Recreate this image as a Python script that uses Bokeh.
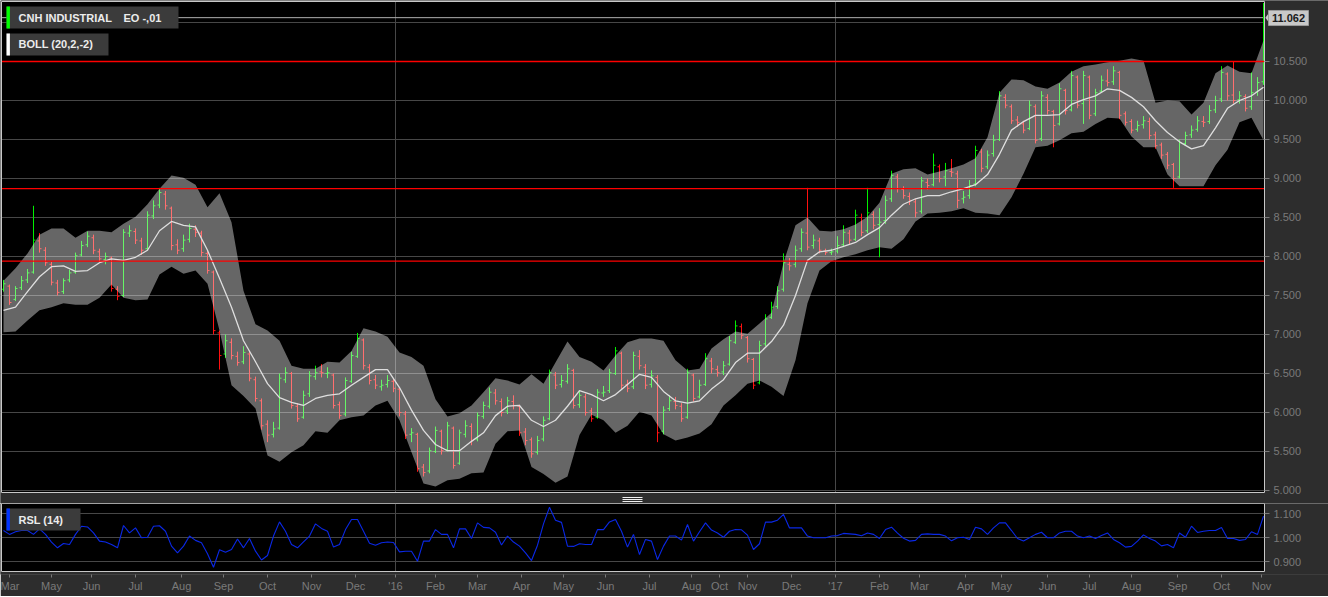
from bokeh.plotting import figure
from bokeh.models import Range1d, FixedTicker, PrintfTickFormatter, Span, ColumnDataSource
from bokeh.layouts import column
from bokeh.embed import file_html
from bokeh.resources import INLINE
from bokeh.core.properties import value

# ---------------- data ----------------
OPEN = [7.58, 7.62, 7.45, 7.60, 7.70, 7.80, 8.20, 8.08, 7.90, 7.66, 7.55, 7.70, 7.80, 8.02, 8.15, 8.24, 8.06, 7.96, 7.98, 7.58,
        7.50, 8.30, 8.32, 8.20, 8.10, 8.52, 8.66, 8.80, 8.62, 8.15, 8.10, 8.22, 8.35, 8.30, 8.04, 7.80, 7.02, 6.75, 6.90, 6.72,
        6.65, 6.75, 6.42, 6.15, 5.85, 5.72, 5.80, 6.42, 6.50, 6.08, 5.94, 6.24, 6.46, 6.52,
        6.50, 6.48, 6.10, 5.98, 6.40, 6.72, 6.93, 6.58, 6.42, 6.33, 6.36, 6.40, 6.30, 5.98, 5.72, 5.72, 5.30, 5.25, 5.50, 5.76,
        5.52, 5.80, 5.35, 5.72, 5.82, 5.66, 5.95, 6.08, 6.25, 6.14, 6.02, 6.14, 6.08, 5.75, 5.65, 5.49, 5.66, 5.92, 6.48, 6.36,
        6.40, 6.54, 6.10, 6.20, 6.02, 5.94, 6.25, 6.28, 6.50, 6.76, 6.36, 6.33,
        6.72, 6.58, 6.36, 6.45, 5.76, 6.05, 6.14, 6.08, 5.94, 6.48, 6.20, 6.36, 6.66, 6.55, 6.52, 6.62, 6.90, 7.10, 6.96, 6.68,
        6.38, 6.88, 7.22, 7.36, 7.58, 7.90, 7.90, 8.10, 8.30, 8.14, 8.20, 8.07, 8.05, 8.07, 8.15, 8.30, 8.22, 8.50, 8.33, 8.54,
        8.41, 8.46, 8.74, 9.02, 8.86, 8.77, 8.70, 8.58, 8.95, 8.92, 9.15, 9.02, 9.09,
        9.06, 8.74, 8.78, 8.93, 9.34, 9.15, 9.32, 9.50, 10.04, 9.92, 9.75, 9.70, 9.64, 9.92, 9.51, 10.04, 9.86, 9.70, 10.13, 9.88,
        10.30, 9.96, 10.30, 9.83, 10.12, 10.25, 10.24, 10.36, 9.83, 9.73, 9.63, 9.69, 9.73, 9.56, 9.43, 9.31, 9.18, 9.02, 9.45, 9.56,
        9.63, 9.73, 9.73, 9.88, 10.02, 10.34, 10.07, 10.01, 10.05, 9.92, 10.11, 10.24]
HIGH = [7.70, 7.64, 7.62, 7.75, 7.84, 8.65, 8.30, 8.12, 7.93, 7.70, 7.72, 7.83, 8.05, 8.20, 8.32, 8.28, 8.10, 8.05, 8.00, 7.62,
        8.35, 8.40, 8.36, 8.24, 8.58, 8.72, 8.88, 8.84, 8.64, 8.22, 8.28, 8.42, 8.40, 8.33, 8.08, 7.82, 7.05, 7.00, 6.95, 6.78,
        6.85, 6.78, 6.46, 6.18, 5.90, 5.88, 6.50, 6.58, 6.52, 6.12, 6.28, 6.53, 6.60, 6.62,
        6.58, 6.50, 6.14, 6.45, 6.78, 7.02, 6.95, 6.62, 6.48, 6.42, 6.48, 6.44, 6.32, 6.02, 5.80, 5.74, 5.34, 5.55, 5.82, 5.78,
        5.88, 5.82, 5.78, 5.90, 5.86, 6.00, 6.14, 6.32, 6.30, 6.18, 6.20, 6.22, 6.10, 5.80, 5.68, 5.70, 5.95, 6.55, 6.52, 6.48,
        6.62, 6.56, 6.28, 6.24, 6.06, 6.30, 6.34, 6.56, 6.84, 6.78, 6.42, 6.78,
        6.80, 6.62, 6.54, 6.48, 6.08, 6.22, 6.20, 6.12, 6.56, 6.50, 6.42, 6.76, 6.70, 6.60, 6.66, 6.98, 7.18, 7.14, 6.98, 6.70,
        6.92, 7.26, 7.42, 7.62, 8.04, 7.98, 8.14, 8.36, 8.88, 8.28, 8.24, 8.10, 8.10, 8.26, 8.40, 8.34, 8.60, 8.55, 8.88, 8.58,
        8.62, 8.78, 9.10, 9.06, 8.90, 8.82, 8.74, 9.02, 9.00, 9.32, 9.18, 9.20, 9.25,
        9.10, 8.84, 8.98, 9.42, 9.38, 9.36, 9.56, 10.12, 10.08, 9.95, 9.80, 9.74, 10.00, 9.95, 10.12, 10.08, 9.88, 10.22, 10.15, 10.38,
        10.32, 10.38, 10.32, 10.15, 10.32, 10.40, 10.44, 10.38, 9.86, 9.76, 9.74, 9.80, 9.78, 9.60, 9.46, 9.34, 9.20, 9.50, 9.60, 9.68,
        9.80, 9.80, 9.94, 10.06, 10.44, 10.36, 10.50, 10.12, 10.08, 10.36, 10.30, 11.25]
LOW = [7.55, 7.38, 7.43, 7.57, 7.66, 7.78, 8.05, 7.88, 7.63, 7.50, 7.52, 7.67, 7.78, 8.00, 8.12, 8.03, 7.93, 7.90, 7.55, 7.44,
       7.48, 8.25, 8.16, 8.02, 8.08, 8.48, 8.62, 8.60, 8.08, 8.03, 8.06, 8.18, 8.25, 8.00, 7.78, 7.00, 6.55, 6.70, 6.68, 6.60,
       6.62, 6.40, 6.14, 5.78, 5.62, 5.68, 5.78, 6.38, 6.05, 5.88, 5.92, 6.20, 6.42, 6.45,
       6.44, 6.05, 5.92, 5.95, 6.38, 6.70, 6.55, 6.36, 6.30, 6.28, 6.32, 6.26, 5.95, 5.66, 5.62, 5.24, 5.18, 5.22, 5.48, 5.46,
       5.50, 5.28, 5.33, 5.68, 5.58, 5.63, 5.92, 6.05, 6.10, 5.95, 5.98, 6.04, 5.70, 5.58, 5.42, 5.46, 5.63, 5.90, 6.30, 6.32,
       6.37, 6.05, 6.06, 5.96, 5.88, 5.92, 6.20, 6.25, 6.48, 6.30, 6.26, 6.30,
       6.55, 6.30, 6.32, 5.62, 5.72, 6.02, 6.04, 5.88, 5.92, 6.14, 6.18, 6.34, 6.50, 6.46, 6.48, 6.60, 6.88, 6.94, 6.64, 6.30,
       6.36, 6.85, 7.20, 7.33, 7.55, 7.82, 7.86, 8.06, 8.08, 8.10, 8.04, 8.02, 8.02, 8.04, 8.12, 8.16, 8.20, 8.26, 8.30, 8.35,
       7.99, 8.42, 8.70, 8.82, 8.74, 8.66, 8.50, 8.55, 8.86, 8.90, 8.95, 8.90, 9.02,
       8.62, 8.68, 8.74, 8.90, 9.08, 9.12, 9.28, 9.48, 9.90, 9.70, 9.66, 9.58, 9.62, 9.45, 9.48, 9.82, 9.40, 9.68, 9.82, 9.86,
       9.90, 9.70, 9.76, 9.80, 10.10, 10.18, 10.20, 9.76, 9.68, 9.58, 9.60, 9.64, 9.50, 9.38, 9.25, 9.12, 8.88, 9.00, 9.42, 9.52,
       9.60, 9.66, 9.70, 9.84, 9.98, 10.00, 9.96, 9.96, 9.86, 9.88, 10.06, 10.20]
CLOSE = [7.65, 7.41, 7.59, 7.69, 7.79, 8.21, 8.10, 7.92, 7.67, 7.54, 7.69, 7.79, 8.01, 8.14, 8.26, 8.08, 7.97, 8.00, 7.59, 7.49,
         8.31, 8.33, 8.21, 8.08, 8.53, 8.65, 8.82, 8.65, 8.14, 8.08, 8.21, 8.36, 8.31, 8.05, 7.82, 7.05, 6.73, 6.92, 6.73, 6.64,
         6.77, 6.44, 6.18, 5.83, 5.71, 5.79, 6.44, 6.51, 6.09, 5.92, 6.22, 6.47, 6.51, 6.51,
         6.51, 6.09, 5.96, 6.41, 6.73, 6.95, 6.60, 6.41, 6.35, 6.35, 6.41, 6.31, 6.00, 5.71, 5.74, 5.28, 5.23, 5.51, 5.77, 5.51,
         5.83, 5.32, 5.74, 5.83, 5.64, 5.96, 6.09, 6.26, 6.15, 6.00, 6.15, 6.09, 5.74, 5.64, 5.47, 5.64, 5.90, 6.51, 6.35, 6.41,
         6.56, 6.09, 6.22, 6.00, 5.92, 6.26, 6.26, 6.51, 6.79, 6.35, 6.31, 6.73,
         6.60, 6.35, 6.47, 5.74, 6.03, 6.15, 6.09, 5.92, 6.51, 6.18, 6.35, 6.69, 6.56, 6.51, 6.60, 6.92, 7.11, 6.99, 6.69, 6.35,
         6.86, 7.20, 7.35, 7.56, 7.92, 7.88, 8.08, 8.31, 8.12, 8.21, 8.08, 8.05, 8.06, 8.14, 8.31, 8.21, 8.53, 8.31, 8.56, 8.40,
         8.44, 8.72, 9.04, 8.87, 8.78, 8.72, 8.56, 8.97, 8.91, 9.17, 9.00, 9.10, 9.08,
         8.72, 8.76, 8.91, 9.36, 9.13, 9.30, 9.49, 10.06, 9.94, 9.74, 9.72, 9.62, 9.94, 9.49, 10.06, 9.87, 9.68, 10.15, 9.87, 10.32,
         9.94, 10.32, 9.81, 10.10, 10.26, 10.23, 10.38, 9.81, 9.72, 9.62, 9.68, 9.74, 9.55, 9.42, 9.30, 9.17, 9.00, 9.46, 9.55, 9.62,
         9.74, 9.72, 9.87, 10.00, 10.36, 10.06, 10.00, 10.06, 9.90, 10.10, 10.23, 11.06]

BAND_UPPER = [7.69, 7.85, 8.04, 8.28, 8.36, 8.36, 8.24, 8.33, 8.33, 8.31,
              8.42, 8.51, 8.67, 8.87, 9.04, 9.01, 8.92, 8.63, 8.81, 8.44,
              7.56, 7.13, 7.05, 6.92, 6.60, 6.56, 6.56, 6.65, 6.64, 6.79,
              7.08, 7.04, 6.97, 6.77, 6.71, 6.60, 6.17, 5.95, 5.99, 6.09,
              6.26, 6.44, 6.41, 6.36, 6.49, 6.37, 6.64, 6.91, 6.71, 6.65,
              6.54, 6.73, 6.90, 6.95, 6.95, 6.92, 6.67, 6.54, 6.56, 6.82,
              6.94, 7.04, 7.01, 7.14, 7.28, 7.92, 8.40, 8.50, 8.33, 8.32,
              8.35, 8.41, 8.51, 8.69, 9.06, 9.12, 9.13, 9.05, 9.09, 9.13,
              9.18, 9.26, 9.53, 10.10, 10.27, 10.26, 10.18, 10.15, 10.23, 10.37,
              10.44, 10.46, 10.49, 10.51, 10.54, 10.51, 9.97, 10.00, 9.99, 9.82,
              9.97, 10.35, 10.45, 10.37, 10.35, 10.77]
BAND_MID = [7.31, 7.35, 7.55, 7.74, 7.87, 7.88, 7.81, 7.82, 7.92, 7.97,
            7.95, 7.99, 8.08, 8.33, 8.45, 8.40, 8.38, 8.08, 7.72, 7.35,
            6.92, 6.65, 6.37, 6.19, 6.13, 6.09, 6.18, 6.22, 6.24, 6.35,
            6.45, 6.55, 6.55, 6.32, 6.03, 5.77, 5.59, 5.51, 5.51, 5.63,
            5.74, 5.96, 6.08, 6.09, 5.90, 5.82, 5.90, 6.08, 6.28, 6.23,
            6.15, 6.23, 6.36, 6.49, 6.45, 6.27, 6.15, 6.12, 6.15, 6.30,
            6.42, 6.64, 6.76, 6.76, 6.91, 7.12, 7.50, 7.95, 8.06, 8.08,
            8.13, 8.18, 8.28, 8.37, 8.53, 8.67, 8.74, 8.78, 8.78, 8.83,
            8.87, 8.92, 9.05, 9.31, 9.62, 9.73, 9.81, 9.81, 9.82, 9.95,
            10.01, 10.06, 10.15, 10.13, 10.04, 9.92, 9.74, 9.59, 9.47, 9.38,
            9.42, 9.65, 9.90, 10.00, 10.06, 10.17]
BAND_LOWER = [7.03, 7.04, 7.18, 7.31, 7.35, 7.40, 7.38, 7.38, 7.47, 7.64,
              7.47, 7.44, 7.45, 7.77, 7.87, 7.78, 7.82, 7.65, 7.05, 6.35,
              6.21, 6.05, 5.45, 5.37, 5.49, 5.58, 5.76, 5.74, 5.90, 5.94,
              5.96, 6.09, 6.15, 5.90, 5.49, 5.09, 5.05, 5.13, 5.15, 5.22,
              5.23, 5.60, 5.76, 5.77, 5.30, 5.21, 5.10, 5.18, 5.71, 5.97,
              5.90, 5.74, 5.83, 6.01, 5.96, 5.72, 5.64, 5.68, 5.73, 5.85,
              6.09, 6.22, 6.37, 6.41, 6.33, 6.21, 6.67, 7.40, 7.82, 7.94,
              7.99, 8.03, 8.08, 8.12, 8.10, 8.22, 8.45, 8.55, 8.56, 8.58,
              8.62, 8.56, 8.55, 8.53, 8.76, 9.06, 9.40, 9.42, 9.49, 9.58,
              9.60, 9.70, 9.78, 9.77, 9.54, 9.40, 9.40, 9.05, 8.90, 8.90,
              8.90, 9.17, 9.37, 9.72, 9.78, 9.49]

RSL = [1.029, 1.013, 1.024, 1.029, 1.029, 1.013, 1.036, 1.013, 0.981, 0.957, 0.975, 0.971, 1.013, 1.047, 1.044, 1.019, 0.985, 0.981, 0.971, 0.957,
       1.050, 1.019, 1.040, 0.999, 1.001, 1.047, 1.049, 1.026, 0.964, 0.936, 0.964, 1.006, 0.988, 0.978, 0.932, 0.876, 0.949, 0.939, 0.950, 0.994,
       0.957, 0.996, 0.943, 0.906, 0.925, 1.006, 1.065, 1.026, 0.971, 0.957, 0.982, 1.006, 1.057, 1.038, 1.026, 0.960, 0.971, 1.033, 1.075, 1.075,
       1.026, 0.976, 0.968, 0.978, 0.981, 0.979,
       0.940, 0.943, 0.943, 0.901, 0.985, 0.985, 1.033, 1.013, 1.013, 0.957, 1.036, 1.036, 0.996, 1.061, 1.042, 1.040, 1.022, 0.969, 1.006, 0.981,
       0.964, 0.936, 0.904, 0.968, 1.057, 1.126, 1.072, 1.063, 0.964, 0.963, 0.974, 0.971, 0.971, 1.033, 1.033, 1.065, 1.075, 1.026, 0.960, 1.013,
       0.929, 0.992, 0.985, 0.908, 0.964, 1.006, 1.006, 0.989, 1.054, 0.985, 1.024, 1.061, 1.031, 1.019, 1.001, 1.026, 1.033, 1.032, 1.010, 0.950,
       0.974, 1.064, 1.064, 1.072, 1.096, 1.040, 1.040, 1.040, 1.006, 0.999, 0.999, 0.999, 1.006, 1.008, 1.017, 1.015, 1.013, 1.007, 1.019, 1.013,
       0.996,
       1.033, 1.043, 1.018, 0.997, 0.985, 0.988, 1.013, 1.015, 1.013, 1.013, 1.006, 0.986, 0.999, 1.001, 0.992, 1.043, 1.036, 1.013, 1.040, 1.061,
       1.061, 1.029, 0.996, 0.985, 0.999, 1.013, 1.022, 0.999, 0.999, 1.019, 1.026, 1.026, 1.006, 0.999, 1.006, 0.996, 1.008, 1.019, 0.992, 0.978,
       0.960, 0.963, 0.985, 1.011, 0.996, 0.985, 0.965, 0.971, 0.957, 1.019, 1.001, 1.047, 1.021, 1.026, 1.029, 1.029, 1.042, 0.996, 0.996, 0.988,
       0.992, 1.024, 1.013, 1.089]

TICK_DAYS = [4, 25, 45, 67, 90, 111, 133, 155, 177, 197, 217, 238, 260, 281, 302, 324, 345, 359, 373, 395,
             417, 439, 459, 482, 500, 523, 544, 565, 588, 610, 630]
TICK_LABELS = ["Mar", "May", "Jun", "Jul", "Aug", "Sep", "Oct", "Nov", "Dec", "'16", "Feb", "Mar", "Apr", "May",
               "Jun", "Jul", "Aug", "Oct", "Nov", "Dec", "'17", "Feb", "Mar", "Apr", "May", "Jun", "Jul", "Aug",
               "Sep", "Oct", "Nov"]
YEAR_DAYS = [197, 417]
PRICE_TICKS = [5.0, 5.5, 6.0, 6.5, 7.0, 7.5, 8.0, 8.5, 9.0, 9.5, 10.0, 10.5]
PRICE_GRID = PRICE_TICKS + [11.0]
RSL_TICKS = [0.9, 1.0, 1.1]
LEVELS = [10.5, 8.87, 7.94]
LAST_PRICE = 11.062

BAR_STEP = 3    # trading days per bar
BAND_STEP = 6   # trading days per band sample

# ---------------- layout constants ----------------
BG = "#2d2d2d"
GRID = "#474747"
AXIS_TXT = "#7a7a7a"
FRAME = "#c8c8c8"
FONT = "Liberation Sans"
UP = "#00f000"
DOWN = "#ff1010"

X_START = -0.5          # 2 px per trading day
X_END = 631.5           # right edge of the chart boxes (trading days)
X_MAX = 663.5           # right edge of the page column holding the value labels
PX_P = 78.0             # pixels per price unit
P_TOP = 11.282
P_BOT = P_TOP - 503 / PX_P
BOX_TOP = P_TOP - 1 / PX_P
BOX_BOT = P_TOP - 492 / PX_P
SEP_TOP = P_TOP - 492.5 / PX_P
PX_R = 240.0            # pixels per RSL unit
R_TOP = 1.14167
R_BOT = R_TOP - 71 / PX_R
RBOX_TOP = R_TOP
RBOX_BOT = R_TOP - 68 / PX_R
RSTRIP_TOP = R_TOP - 68.5 / PX_R

bar_day = [1 + BAR_STEP * i for i in range(len(CLOSE))]
band_day = [1 + BAND_STEP * i for i in range(len(BAND_MID))]

src = ColumnDataSource(dict(
    x=bar_day,
    xl=[d - 1 for d in bar_day],
    xr=[d + 1 for d in bar_day],
    o=OPEN, h=HIGH, l=LOW, c=CLOSE,
    col=[UP if c >= o else DOWN for o, c in zip(OPEN, CLOSE)],
))

xr = Range1d(X_START, X_MAX)


def style_value_axis(ax, ticks):
    ax.ticker = FixedTicker(ticks=ticks)
    ax.formatter = PrintfTickFormatter(format="%.3f")
    ax.fixed_location = X_END
    ax.axis_line_color = None
    ax.major_tick_line_color = AXIS_TXT
    ax.major_tick_out = 5
    ax.major_tick_in = 0
    ax.minor_tick_line_color = None
    ax.major_label_text_color = AXIS_TXT
    ax.major_label_text_font = FONT
    ax.major_label_text_font_size = "11px"
    ax.major_label_standoff = 4


# ---------------- price panel ----------------
p1 = figure(width=1328, height=503, x_range=xr, y_range=Range1d(P_BOT, P_TOP),
            output_backend="svg", toolbar_location=None,
            x_axis_location=None, y_axis_location="right",
            min_border_left=0, min_border_right=0, min_border_top=0, min_border_bottom=0,
            background_fill_color="black", border_fill_color=BG, outline_line_color=None)
p1.xgrid.visible = False
p1.ygrid.ticker = FixedTicker(ticks=PRICE_GRID)
p1.ygrid.grid_line_color = GRID
style_value_axis(p1.yaxis[0], PRICE_TICKS)

for d in YEAR_DAYS:
    p1.add_layout(Span(location=d, dimension="height", line_color=GRID, line_width=1, level="underlay"))

# last price line
p1.segment(x0=[0], y0=[LAST_PRICE], x1=[X_END], y1=[LAST_PRICE], line_color="#b0b0b0", line_width=1)

# OHLC bars
p1.segment(x0="x", y0="l", x1="x", y1="h", line_color="col", line_width=1, source=src)
p1.segment(x0="xl", y0="o", x1="x", y1="o", line_color="col", line_width=1, source=src)
p1.segment(x0="x", y0="c", x1="xr", y1="c", line_color="col", line_width=1, source=src)

# Bollinger band (translucent over the bars) and middle line
p1.varea(x=band_day, y1=BAND_LOWER, y2=BAND_UPPER, fill_color="white", fill_alpha=0.4)
p1.line(band_day, BAND_MID, line_color="#dedede", line_width=1.3)

# red horizontal levels
p1.segment(x0=[0] * len(LEVELS), y0=LEVELS, x1=[X_END] * len(LEVELS), y1=LEVELS,
           line_color="#ff0000", line_width=1.3)

# page column for the value labels and the separator strip
p1.quad(left=[X_END, X_START], right=[X_MAX, X_MAX], top=[P_TOP, SEP_TOP], bottom=[P_BOT, P_BOT],
        fill_color=BG, line_color=None)
# chart box outline
p1.quad(left=[0], right=[X_END], top=[BOX_TOP], bottom=[BOX_BOT], fill_color=None,
        line_color=FRAME, line_width=1)
# splitter grip
grip_y = [P_TOP - 497 / PX_P, P_TOP - 499 / PX_P, P_TOP - 501 / PX_P]
p1.segment(x0=[310.5] * 3, x1=[320.5] * 3, y0=grip_y, y1=grip_y, line_color="#f0f0f0", line_width=1)

# legend boxes
p1.quad(left=[2.5, 2.5], right=[88.5, 53.5], top=[11.205, 10.859], bottom=[10.923, 10.577],
        fill_color="#3b3b3b", line_color=None)
p1.quad(left=[2.5, 2.5], right=[4.2, 4.2], top=[11.205, 10.859], bottom=[10.923, 10.577],
        fill_color=["#00ff00", "#ffffff"], line_color=None)
p1.text(x=[8.5, 61, 8.5], y=[11.064, 11.064, 10.718], text=["CNH INDUSTRIAL", "EO -,01", "BOLL (20,2,-2)"],
        text_font=value(FONT), text_font_style="bold", text_font_size="11px",
        text_color="#ececec", text_baseline="middle")

# last price tag
p1.patch(x=[X_END + 0.4, 633.6, 633.6], y=[LAST_PRICE, LAST_PRICE + 0.055, LAST_PRICE - 0.055],
         fill_color="#c8c8c8", line_color=None)
p1.quad(left=[633.5], right=[653.5], top=[11.154], bottom=[10.961],
        fill_color="#c8c8c8", line_color="#9a9a9a", line_width=1)
p1.text(x=[643.5], y=[11.058], text=["11.062"], text_font=value(FONT), text_font_style="bold",
        text_font_size="11px", text_color="#1a1a1a", text_baseline="middle", text_align="center")

# ---------------- RSL panel ----------------
p2 = figure(width=1328, height=93, x_range=xr, y_range=Range1d(R_BOT, R_TOP),
            output_backend="svg", toolbar_location=None, y_axis_location="right",
            min_border_left=0, min_border_right=0, min_border_top=0, min_border_bottom=22,
            background_fill_color="black", border_fill_color=BG, outline_line_color=None)
p2.xgrid.visible = False
p2.ygrid.ticker = FixedTicker(ticks=RSL_TICKS)
p2.ygrid.grid_line_color = GRID
style_value_axis(p2.yaxis[0], RSL_TICKS)
for d in YEAR_DAYS:
    p2.add_layout(Span(location=d, dimension="height", line_color=GRID, line_width=1, level="underlay"))

p2.line(bar_day, RSL, line_color="#0a28e6", line_width=1.1)

p2.quad(left=[X_END, X_START], right=[X_MAX, X_MAX], top=[R_TOP, RSTRIP_TOP], bottom=[R_BOT, R_BOT],
        fill_color=BG, line_color=None)
p2.quad(left=[0], right=[X_END], top=[RBOX_TOP], bottom=[RBOX_BOT], fill_color=None,
        line_color=FRAME, line_width=1)

p2.quad(left=[2.5], right=[39.5], top=[1.121], bottom=[1.029], fill_color="#3b3b3b", line_color=None)
p2.quad(left=[2.5], right=[4.2], top=[1.121], bottom=[1.029], fill_color="#0033ff", line_color=None)
p2.text(x=[8.5], y=[1.075], text=["RSL (14)"], text_font=value(FONT), text_font_style="bold",
        text_font_size="11px", text_color="#ececec", text_baseline="middle")

axx = p2.xaxis[0]
axx.ticker = FixedTicker(ticks=TICK_DAYS)
axx.major_label_overrides = {d: lab for d, lab in zip(TICK_DAYS, TICK_LABELS)}
axx.axis_line_color = None
axx.major_tick_line_color = AXIS_TXT
axx.major_tick_out = 3
axx.major_tick_in = 0
axx.minor_tick_line_color = None
axx.major_label_text_color = AXIS_TXT
axx.major_label_text_font = FONT
axx.major_label_text_font_size = "11px"
axx.major_label_standoff = 2

layout = column(p1, p2)
open("out.html", "w").write(file_html(layout, INLINE))
